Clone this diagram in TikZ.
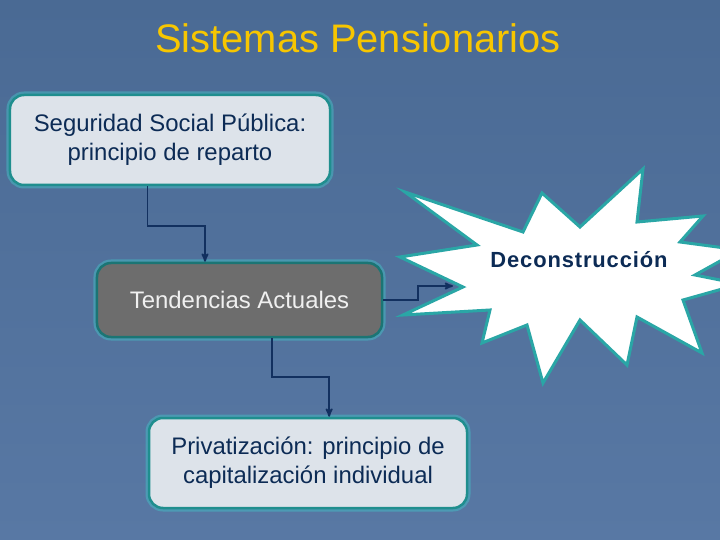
\documentclass[tikz,border=0pt]{standalone}
\usepackage{fontspec}
\setmainfont{Liberation Sans}
\newfontfamily\burstfont[LetterSpace=4]{Liberation Sans}
\usepackage{tikz}
\usetikzlibrary{arrows, calc, positioning}
\usepackage{xcolor}

\definecolor{slidetop}{HTML}{4A6A94}
\definecolor{slidebot}{HTML}{5878A4}
\definecolor{titlegold}{HTML}{F7C600}
\definecolor{boxfill}{HTML}{DDE3EA}
\definecolor{darkfill}{HTML}{6D6D6D}
\definecolor{tealline}{HTML}{1F8E8E}
\definecolor{tealdark}{HTML}{1B7574}
\definecolor{burstline}{HTML}{2AA6A6}
\definecolor{glow}{HTML}{45B8C2}
\definecolor{navytext}{HTML}{0C2B55}
\definecolor{navyline}{HTML}{12305F}

\begin{document}
\begin{tikzpicture}[x=1bp,y=-1bp,>=stealth']
  \tikzstyle{every node}=[font=\fontsize{24}{29}\selectfont, align=center, inner sep=0pt]
  \tikzstyle{box}=[draw=tealline, line width=2.5bp, rounded corners=14bp,
    fill=boxfill, text=navytext,
    preaction={draw=glow, line width=7bp, opacity=0.55}]
  \tikzstyle{darkbox}=[box, fill=darkfill, draw=tealdark, text=white!94!black]
  \tikzstyle{conn}=[->, draw=navyline, line width=1.8bp]

  \useasboundingbox (0,0) rectangle (720,540);
  \clip (0,0) rectangle (720,540);
  \shade[top color=slidetop, bottom color=slidebot] (0,0) rectangle (720,540);

  % title
  \node[anchor=base, text=titlegold, font=\fontsize{40}{48}\selectfont]
    (title) at (358,53) {Sistemas Pensionarios};

  % boxes
  \node[box, minimum width=320bp, minimum height=90bp] (seguridad) at (170,140)
    {Seguridad Social Pública:\\principio de reparto};
  \node[darkbox, minimum width=285bp, minimum height=74bp] (tendencias) at (239.5,300)
    {Tendencias Actuales};
  \node[box, minimum width=318bp, minimum height=90bp] (privatizacion) at (308,463)
    {Privatización: principio de\\capitalización individual};

  % starburst
  \draw[draw=burstline, line width=3bp, fill=white, line join=miter]
    (405,192) -- (523,232) -- (542,193) -- (580,227) -- (643,169) -- (637,222)
    -- (703,216) -- (680,242) -- (740,250) -- (695,275) -- (740,284) -- (683,300)
    -- (702,353) -- (637,317) -- (627,365) -- (580,320) -- (543,383) -- (527,325)
    -- (482,343) -- (490,310) -- (403,315) -- (463,287) -- (400,257) -- (477,245)
    -- cycle;
  \node[anchor=base, text=navytext, font=\fontsize{22}{26}\burstfont\bfseries]
    (deconstruccion) at (579,268) {Deconstrucción};
  \coordinate (tip) at (453,286);

  % connectors
  \draw[conn] ($(seguridad.south west)!0.43!(seguridad.south east)$) -- ++(0,40)
    -| ($(tendencias.north west)!0.38!(tendencias.north east)$);
  \draw[conn] ($(tendencias.south west)!0.614!(tendencias.south east)$) -- ++(0,39)
    -| ($(privatizacion.north west)!0.566!(privatizacion.north east)$);
  \draw[conn] (tendencias.east) -- ++(35,0) |- (tip);
\end{tikzpicture}
\end{document}
